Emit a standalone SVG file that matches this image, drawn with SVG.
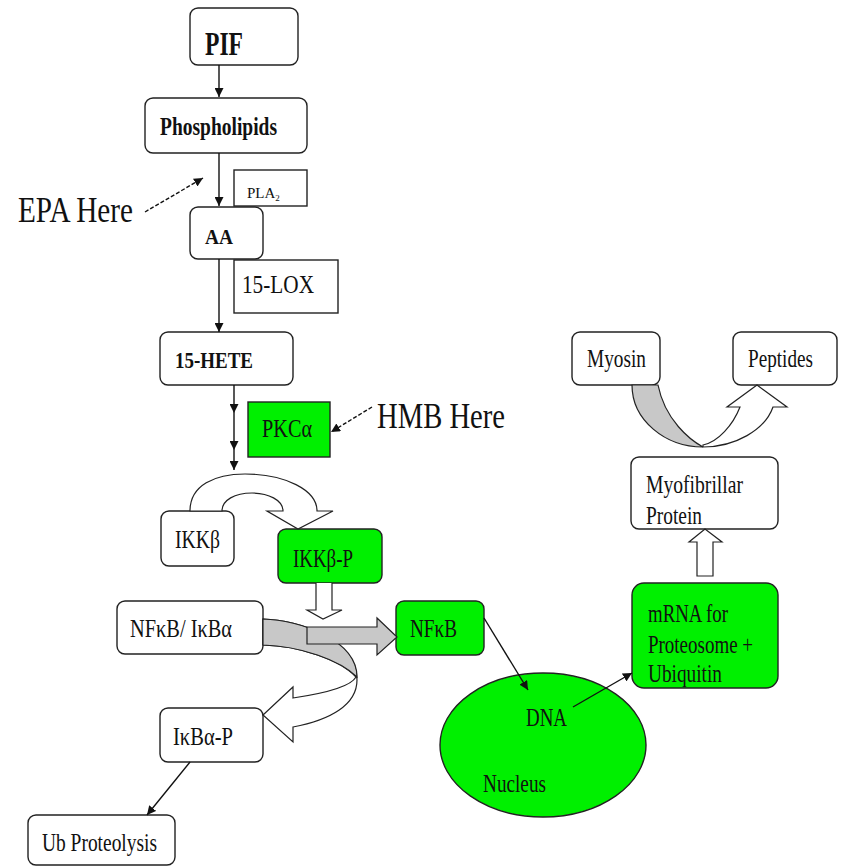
<svg xmlns="http://www.w3.org/2000/svg" width="844" height="868" viewBox="0 0 844 868">
<defs>
<marker id="ah" viewBox="0 0 10 10" refX="10" refY="5" markerWidth="9" markerHeight="9" markerUnits="userSpaceOnUse" orient="auto"><path d="M0,0 L10,5 L0,10 z" fill="#111"/></marker>
</defs>
<style>
.box{fill:#fff;stroke:#222;stroke-width:1.4}
.g{fill:#00f000}
text{font-family:"Liberation Serif","Times New Roman",serif;fill:#111;font-size:26px}
.b{font-weight:bold}
.big{font-size:35px}
.ln{stroke:#111;stroke-width:1.4;fill:none}
.dash{stroke-dasharray:4 2}
.hollow{fill:#fff;stroke:#222;stroke-width:1.2}
.gray{fill:#c8c8c8;stroke:#222;stroke-width:1.2}
</style>
<rect width="844" height="868" fill="#fff"/>

<g id="pif"><rect class="box" x="190" y="8" width="108" height="57" rx="8"/><text class="b" x="205" y="55" style="font-size:34px" textLength="38" lengthAdjust="spacingAndGlyphs">PIF</text></g>
<g id="phospholipids"><rect class="box" x="145" y="98" width="162" height="55" rx="8"/><text class="b" x="160" y="135" style="font-size:25px" textLength="117" lengthAdjust="spacingAndGlyphs">Phospholipids</text></g>
<g id="pla2"><rect class="box" x="234" y="170" width="73" height="36"/><text x="247" y="198" style="font-size:15px">PLA<tspan style="font-size:9px" dy="3">2</tspan></text></g>
<g id="aa"><rect class="box" x="190" y="207" width="73" height="52" rx="8"/><text class="b" x="205" y="244" style="font-size:22px" textLength="28" lengthAdjust="spacingAndGlyphs">AA</text></g>
<g id="lox"><rect class="box" x="234" y="260" width="104" height="53"/><text x="242" y="293" style="font-size:25px" textLength="72" lengthAdjust="spacingAndGlyphs">15-LOX</text></g>
<g id="hete"><rect class="box" x="160" y="332" width="133" height="53" rx="8"/><text class="b" x="175" y="368" style="font-size:23px" textLength="78" lengthAdjust="spacingAndGlyphs">15-HETE</text></g>
<g id="pkc"><rect class="box g" x="248" y="402" width="82" height="55"/><text x="262" y="437" style="font-size:25px" textLength="50" lengthAdjust="spacingAndGlyphs">PKCα</text></g>
<g id="ikk"><rect class="box" x="161" y="511" width="73" height="55" rx="8"/><text x="175" y="548" textLength="45" lengthAdjust="spacingAndGlyphs">IKKβ</text></g>
<g id="ikkp"><rect class="box g" x="278" y="529" width="104" height="54" rx="8"/><text x="293" y="567" textLength="60" lengthAdjust="spacingAndGlyphs">IKKβ-P</text></g>
<g id="nfkbikb"><rect class="box" x="117" y="601" width="146" height="53" rx="8"/><text x="130" y="637" textLength="102" lengthAdjust="spacingAndGlyphs">NFκB/ IκBα</text></g>
<g id="nfkb"><rect class="box g" x="396" y="601" width="88" height="54" rx="8"/><text x="410" y="637" textLength="47" lengthAdjust="spacingAndGlyphs">NFκB</text></g>
<g id="ikbp"><rect class="box" x="160" y="708" width="103" height="54" rx="8"/><text x="173" y="745" textLength="60" lengthAdjust="spacingAndGlyphs">IκBα-P</text></g>
<g id="ub"><rect class="box" x="28" y="815" width="147" height="50" rx="8"/><text x="42" y="851" textLength="115" lengthAdjust="spacingAndGlyphs">Ub Proteolysis</text></g>
<g id="nucleus"><ellipse class="box g" cx="543" cy="745" rx="103" ry="72"/><text x="526" y="726" textLength="41" lengthAdjust="spacingAndGlyphs">DNA</text><text x="483" y="792" textLength="63" lengthAdjust="spacingAndGlyphs">Nucleus</text></g>
<g id="mrna"><rect class="box g" x="632" y="583" width="146" height="105" rx="12"/><text x="648" y="622" style="font-size:25px" textLength="80" lengthAdjust="spacingAndGlyphs">mRNA for</text><text x="648" y="653" style="font-size:25px" textLength="105" lengthAdjust="spacingAndGlyphs">Proteosome +</text><text x="648" y="682" style="font-size:25px" textLength="74" lengthAdjust="spacingAndGlyphs">Ubiquitin</text></g>
<g id="myofibrillar"><rect class="box" x="631" y="457" width="147" height="72" rx="8"/><text x="646" y="493" style="font-size:25px" textLength="97" lengthAdjust="spacingAndGlyphs">Myofibrillar</text><text x="646" y="524" style="font-size:25px" textLength="56" lengthAdjust="spacingAndGlyphs">Protein</text></g>
<g id="myosin"><rect class="box" x="572" y="332" width="88" height="53" rx="8"/><text x="587" y="367" textLength="59" lengthAdjust="spacingAndGlyphs">Myosin</text></g>
<g id="peptides"><rect class="box" x="733" y="332" width="104" height="53" rx="8"/><text x="748" y="367" textLength="65" lengthAdjust="spacingAndGlyphs">Peptides</text></g>
<g id="epa"><text class="big" x="18" y="222" textLength="115" lengthAdjust="spacingAndGlyphs">EPA Here</text></g>
<g id="hmb"><text class="big" x="377" y="428" textLength="128" lengthAdjust="spacingAndGlyphs">HMB Here</text></g>

<g id="connectors">
<path class="ln" d="M219,65 L219,97" marker-end="url(#ah)"/>
<path class="ln" d="M219,153 L219,206" marker-end="url(#ah)"/>
<path class="ln" d="M219,259 L219,332" marker-end="url(#ah)"/>
<path class="ln" d="M234,385 L234,413 L234,450 L234,470" marker-mid="url(#ah)" marker-end="url(#ah)"/>
<path class="ln dash" d="M145,212 L203,178" marker-end="url(#ah)"/>
<path class="ln dash" d="M372,407 L331,432" marker-end="url(#ah)"/>
<path class="ln" d="M484,618 L528,690" marker-end="url(#ah)"/>
<path class="ln" d="M573,707 L632,673" marker-end="url(#ah)"/>
<path class="ln" d="M190,762 L147,815" marker-end="url(#ah)"/>
<path class="hollow" d="M190,511 C190,485 215,474 245,474 C285,474 317,490 317,511 L333,511 L298,529 L267,511 L283,511 C283,500 268,493 252,493 C235,493 222,500 222,511 Z"/>
<path class="hollow" d="M316,583 L316,610 L307,610 L323,619 L342,610 L332,610 L332,583"/>
<path class="hollow" d="M263,619 C300,620 357,640 357,680 C357,705 330,720 293,727 L293,742 L263,715 L293,687 L293,698 C320,694 350,688 356,677 C340,660 300,646 263,645 Z"/>
<path class="gray" d="M263,619 C300,620 357,640 357,677 C340,660 300,646 263,645 Z"/>
<path class="gray" d="M307,627 L377,627 L377,618 L397,637 L377,655 L377,644 L307,644 Z"/>
<path class="gray" d="M632,385 C632,420 665,447 703,447 C690,440 665,420 658,385 Z"/>
<path class="hollow" d="M703,447 C735,447 765,430 773,407 L787,407 L757,385 L727,407 L740,407 C733,425 718,442 703,445 Z"/>
<path class="hollow" d="M697,576 L697,542 L689,542 L705,529 L722,542 L713,542 L713,576 Z"/>
</g>
</svg>
